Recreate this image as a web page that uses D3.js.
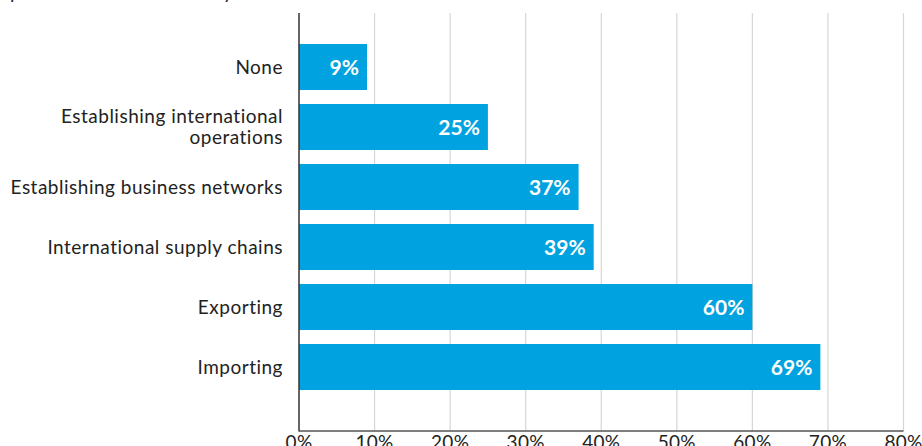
<!DOCTYPE html>
<html><head><meta charset="utf-8">
<script src="https://cdn.jsdelivr.net/npm/d3@7"></script>
<style>body{margin:0;background:#fff;} svg{display:block;}</style>
</head><body>
<svg id="chart" width="922" height="446"></svg>
<script>
const titleText = "percent of businesses by area of involvement";
const categories = ["None", "Establishing international operations", "Establishing business networks", "International supply chains", "Exporting", "Importing"];
const categoryLines = [["None"], ["Establishing international", "operations"], ["Establishing business networks"], ["International supply chains"], ["Exporting"], ["Importing"]];
const values = [9, 25, 37, 39, 60, 69];
const tickValues = [0, 10, 20, 30, 40, 50, 60, 70, 80];

const svg = d3.select("#chart");
const font = "Lato, 'Open Sans', sans-serif";
const x = d3.scaleLinear().domain([0, 80]).range([299, 903.5]);
const y = d3.scaleBand().domain(categories).range([37, 397]).paddingInner(14/60).paddingOuter(7/60);

svg.append("text").attr("x", 10).attr("y", -1.5).attr("font-family", font).attr("font-size", 19)
  .attr("letter-spacing", 0.8).attr("fill", "#222").text(titleText);

// gridlines
svg.append("g").selectAll("line").data(tickValues.slice(1)).join("line")
  .attr("x1", d => x(d)).attr("x2", d => x(d)).attr("y1", 13).attr("y2", 431)
  .attr("stroke", "#d6d6d6").attr("stroke-width", 1.2);

// bars
svg.append("g").selectAll("rect").data(values).join("rect")
  .attr("x", x(0)).attr("y", (d, i) => y(categories[i]))
  .attr("width", d => x(d) - x(0)).attr("height", y.bandwidth())
  .attr("fill", "#00A3E0");

// value labels
svg.append("g").selectAll("text").data(values).join("text")
  .attr("x", d => x(d) - 8).attr("y", (d, i) => y(categories[i]) + y.bandwidth() / 2)
  .attr("dy", "0.36em").attr("text-anchor", "end")
  .attr("font-family", font).attr("font-weight", 700).attr("font-size", 21).attr("fill", "#fff")
  .text(d => d + "%");

// category labels
const cl = svg.append("g").selectAll("text").data(categories).join("text")
  .attr("text-anchor", "end").attr("font-family", font).attr("font-size", 19)
  .attr("letter-spacing", 0.5).attr("fill", "#222")
  .attr("transform", (d, i) => `translate(283,${y(d) + y.bandwidth() / 2})`);
cl.each(function(d, i) {
  const lines = categoryLines[i];
  const n = lines.length;
  d3.select(this).selectAll("tspan").data(lines).join("tspan")
    .attr("x", 0).attr("y", (l, j) => (j - (n - 1) / 2) * 21)
    .attr("dy", "0.35em").text(l => l);
});

// axes lines
svg.append("line").attr("x1", x(0)).attr("x2", x(0)).attr("y1", 13).attr("y2", 431.5).attr("stroke", "#333").attr("stroke-width", 1.5);
svg.append("line").attr("x1", x(0)).attr("x2", x(80)).attr("y1", 431).attr("y2", 431).attr("stroke", "#555").attr("stroke-width", 1.5);

// tick labels
svg.append("g").selectAll("text").data(tickValues).join("text")
  .attr("x", d => x(d)).attr("y", 449).attr("text-anchor", "middle")
  .attr("font-family", font).attr("font-size", 19).attr("letter-spacing", 0.3).attr("fill", "#222")
  .text(d => d + "%");
</script>
</body></html>
